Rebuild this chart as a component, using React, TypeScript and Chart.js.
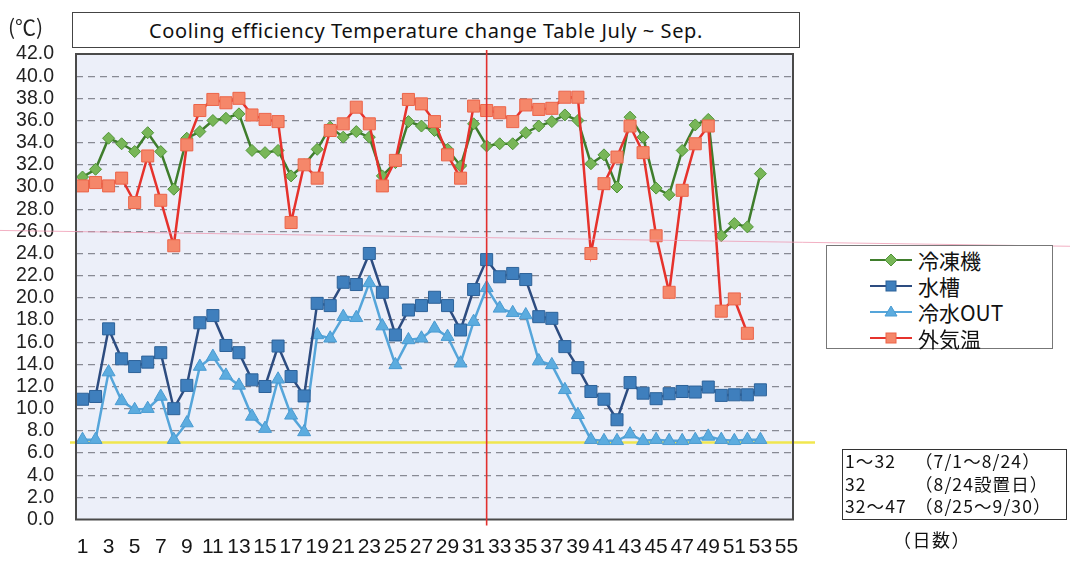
import React, { useEffect, useRef } from 'react';
import { Chart, registerables } from 'chart.js';

Chart.register(...registerables);

// ---- data ----
const X_LABELS = [
  '1', '2', '3', '4', '5', '6', '7', '8', '9', '10', '11', '12', '13', '14', '15', '16', '17', '18', '19', '20',
  '21', '22', '23', '24', '25', '26', '27', '28', '29', '30', '31', '32', '33', '34', '35', '36', '37', '38', '39', '40',
  '41', '42', '43', '44', '45', '46', '47', '48', '49', '50', '51', '52', '53', '54', '55',
];

// 冷凍機
const REFRIGERATOR = [
  30.9, 31.6, 34.4, 33.9, 33.2, 34.9, 33.2, 29.8, 34.4, 35.0,
  36.0, 36.2, 36.6, 33.3, 33.1, 33.3, 31.0, 32.0, 33.4, 35.4,
  34.5, 35.0, 34.5, 31.0, 32.2, 35.9, 35.5, 35.1, 33.4, 31.9,
  35.7, 33.7, 33.9, 33.9, 34.9, 35.5, 35.9, 36.5, 36.0, 32.1,
  32.9, 30.0, 36.3, 34.5, 29.9, 29.3, 33.3, 35.6, 36.1, 25.6,
  26.7, 26.4, 31.2,
];

// 水槽
const WATER_TANK = [
  10.85, 11.1, 17.2, 14.5, 13.8, 14.2, 15.05, 10.0, 12.1, 17.75,
  18.4, 15.7, 15.05, 12.6, 12.0, 15.65, 12.9, 11.15, 19.5, 19.3,
  21.4, 21.2, 24.0, 20.5, 16.65, 18.9, 19.3, 20.05, 19.3, 17.1,
  20.75, 23.45, 21.9, 22.2, 21.65, 18.3, 18.15, 15.6, 13.7, 11.55,
  10.85, 9.0, 12.35, 11.4, 10.9, 11.35, 11.55, 11.5, 11.95, 11.2,
  11.25, 11.25, 11.7,
];

// 冷水OUT
const CHILLED_OUT = [
  7.2, 7.2, 13.3, 10.7, 9.9, 10.0, 11.1, 7.2, 8.7, 13.8,
  14.7, 13.0, 12.1, 9.3, 8.2, 12.65, 9.4, 7.9, 16.65, 16.35,
  18.3, 18.2, 21.35, 17.45, 13.95, 16.2, 16.35, 17.25, 16.5, 14.1,
  17.85, 20.9, 19.05, 18.65, 18.45, 14.3, 13.95, 11.7, 9.45, 7.2,
  7.1, 7.1, 7.7, 7.1, 7.2, 7.1, 7.1, 7.2, 7.5, 7.2,
  7.1, 7.2, 7.2,
];

// 外気温
const OUTDOOR = [
  30.1, 30.4, 30.1, 30.8, 28.6, 32.8, 28.8, 24.7, 33.8, 36.9,
  37.9, 37.6, 38.0, 36.5, 36.1, 35.9, 26.8, 32.0, 30.8, 35.1,
  35.7, 37.2, 35.7, 30.1, 32.4, 37.9, 37.5, 35.9, 32.9, 30.8,
  37.3, 36.9, 36.7, 35.9, 37.4, 37.0, 37.1, 38.1, 38.1, 24.0,
  30.3, 32.7, 35.5, 33.1, 25.6, 20.5, 29.7, 33.9, 35.5, 18.8,
  19.9, 16.8,
];

const Y_MIN = 0;
const Y_MAX = 42;
const Y_STEP = 2;

const INSTALL_DAY = '32';
const YELLOW_LEVEL = 6.95;
const PINK_LINE_DAYS = ['1', '55'];
const PINK_LINE_VALUES = [25.97, 25.03];

const TITLE = 'Cooling efficiency Temperature change Table July ~ Sep.';
const UNIT_LABEL = '(℃)';
const X_UNIT_LABEL = '（日数）';

const LEGEND_NAMES = ['冷凍機', '水槽', '冷水OUT', '外気温'];

const NOTE_LEFT = ['1～32', '32', '32～47'];
const NOTE_RIGHT = ['（7/1～8/24）', '（8/24設置日）', '（8/25～9/30）'];

// ---- styles ----
const STYLE = [
  { line: '#3f7d2c', fill: '#78b658', border: '#4f9437', shape: 'diamond' },
  { line: '#2d4c80', fill: '#3f7fbd', border: '#2d6299', shape: 'square' },
  { line: '#55a5da', fill: '#5cacdf', border: '#4a9bd2', shape: 'triangle' },
  { line: '#e6322c', fill: '#f5876a', border: '#ec6449', shape: 'square' },
];

const decorPlugin = {
  id: 'decor',
  beforeDraw(chart: any) {
    const { ctx, chartArea: a } = chart;
    ctx.save();
    ctx.fillStyle = '#eceff9';
    ctx.fillRect(a.left, a.top, a.right - a.left, a.bottom - a.top);
    ctx.restore();
  },
  beforeDatasetsDraw(chart: any) {
    const { ctx, chartArea: a, scales } = chart;
    const y = scales.y.getPixelForValue(YELLOW_LEVEL);
    ctx.save();
    ctx.strokeStyle = 'rgba(240,228,60,0.9)';
    ctx.lineWidth = 2.5;
    ctx.beginPath();
    ctx.moveTo(a.left - 6, y);
    ctx.lineTo(a.right + 22, y);
    ctx.stroke();
    ctx.restore();
  },
  afterDatasetsDraw(chart: any) {
    const { ctx, chartArea: a, scales, width } = chart;
    ctx.save();
    ctx.strokeStyle = '#4a4a4a';
    ctx.lineWidth = 2;
    ctx.strokeRect(a.left, a.top, a.right - a.left, a.bottom - a.top);
    const xi = scales.x.getPixelForValue(X_LABELS.indexOf(INSTALL_DAY));
    ctx.strokeStyle = '#e2302e';
    ctx.lineWidth = 1.6;
    ctx.beginPath();
    ctx.moveTo(xi, a.top - 4);
    ctx.lineTo(xi, a.bottom + 6);
    ctx.stroke();
    const x1 = scales.x.getPixelForValue(X_LABELS.indexOf(PINK_LINE_DAYS[0]));
    const x2 = scales.x.getPixelForValue(X_LABELS.indexOf(PINK_LINE_DAYS[1]));
    const y1 = scales.y.getPixelForValue(PINK_LINE_VALUES[0]);
    const y2 = scales.y.getPixelForValue(PINK_LINE_VALUES[1]);
    const slope = (y2 - y1) / (x2 - x1);
    ctx.strokeStyle = 'rgba(238,150,175,0.75)';
    ctx.lineWidth = 1;
    ctx.beginPath();
    ctx.moveTo(0, y1 - slope * x1);
    ctx.lineTo(width, y1 + slope * (width - x1));
    ctx.stroke();
    ctx.restore();
  },
};

function LegendIcon({ idx }: { idx: number }) {
  const s = STYLE[idx];
  let marker: any = null;
  if (s.shape === 'diamond') {
    marker = <polygon points="21,4 27,10 21,16 15,10" fill={s.fill} stroke={s.border} strokeWidth="1" />;
  } else if (s.shape === 'square') {
    marker = <rect x="16" y="5" width="10" height="10" fill={s.fill} stroke={s.border} strokeWidth="1" />;
  } else {
    marker = <polygon points="21,4 27,14 15,14" fill={s.fill} stroke={s.border} strokeWidth="1" />;
  }
  return (
    <svg width="42" height="20" style={{ display: 'block' }}>
      <line x1="0" y1="10" x2="42" y2="10" stroke={s.line} strokeWidth="2" />
      {marker}
    </svg>
  );
}

export default function App() {
  const canvasRef = useRef<HTMLCanvasElement | null>(null);

  useEffect(() => {
    const canvas = canvasRef.current;
    if (!canvas) return;
    const series = [REFRIGERATOR, WATER_TANK, CHILLED_OUT, OUTDOOR];
    const pointStyles = ['rectRot', 'rect', 'triangle', 'rect'];
    const radii = [6, 8.5, 7.5, 8.5];
    const orders = [2, 1, 3, 0];
    const chart = new Chart(canvas, {
      type: 'line',
      data: {
        labels: X_LABELS,
        datasets: series.map((d, i) => ({
          label: LEGEND_NAMES[i],
          data: d,
          borderColor: STYLE[i].line,
          borderWidth: 2.5,
          backgroundColor: STYLE[i].fill,
          pointBackgroundColor: STYLE[i].fill,
          pointBorderColor: STYLE[i].border,
          pointBorderWidth: 1,
          pointStyle: pointStyles[i] as any,
          pointRadius: radii[i],
          pointHoverRadius: radii[i],
          tension: 0,
          fill: false,
          order: orders[i],
        })),
      },
      options: {
        responsive: false,
        animation: false,
        devicePixelRatio: 1,
        layout: { padding: { top: 54, right: 277, left: 0, bottom: 0 } },
        plugins: {
          legend: { display: false },
          tooltip: { enabled: false },
          title: { display: false },
        },
        scales: {
          x: {
            type: 'category',
            offset: true,
            grid: { display: false, drawTicks: false },
            border: { display: false },
            afterFit: (scale: any) => {
              scale.height = 52.5;
            },
            ticks: {
              autoSkip: false,
              maxRotation: 0,
              minRotation: 0,
              padding: 15,
              color: '#161616',
              font: { family: "'Liberation Sans Narrow', 'Liberation Sans', Arial, sans-serif", size: 21 },
              callback: (_v: any, idx: number) => (idx % 2 === 0 ? X_LABELS[idx] : ''),
            },
          },
          y: {
            min: Y_MIN,
            max: Y_MAX,
            afterFit: (scale: any) => {
              scale.width = 76;
            },
            border: { display: false, dash: [7, 5] },
            grid: {
              drawTicks: false,
              lineWidth: 1.2,
              color: (c: any) =>
                c.tick && (c.tick.value === Y_MIN || c.tick.value === Y_MAX)
                  ? 'rgba(0,0,0,0)'
                  : 'rgba(70,70,80,0.6)',
            },
            ticks: {
              stepSize: Y_STEP,
              autoSkip: false,
              padding: 22,
              color: '#222',
              font: { family: "'Liberation Sans', Arial, sans-serif", size: 19.5 },
              callback: (v: any) => Number(v).toFixed(1),
            },
          },
        },
      },
      plugins: [decorPlugin],
    } as any);
    return () => chart.destroy();
  }, []);

  const box: React.CSSProperties = { position: 'absolute', boxSizing: 'border-box' };

  return (
    <div style={{ position: 'absolute', left: 0, top: 0, width: 1070, height: 572, background: '#fff', overflow: 'hidden' }}>
      <canvas ref={canvasRef} width={1070} height={572} style={{ position: 'absolute', left: 0, top: 0, width: 1070, height: 572 }} />
      <div style={{ ...box, left: 8, top: 13, fontFamily: "'Noto Sans CJK JP', 'Noto Sans', sans-serif", fontSize: 21, color: '#222', lineHeight: '26px' }}>
        {UNIT_LABEL}
      </div>
      <div
        style={{
          ...box,
          left: 72,
          top: 12,
          width: 728,
          height: 36,
          border: '1.5px solid #444',
          background: '#fff',
          display: 'flex',
          alignItems: 'center',
          justifyContent: 'center',
          paddingRight: 20,
          fontFamily: "'Noto Sans', 'Open Sans', sans-serif",
          fontSize: 20,
          letterSpacing: 0.6,
          color: '#111',
        }}
      >
        {TITLE}
      </div>
      <div
        style={{
          ...box,
          left: 826,
          top: 245,
          width: 227,
          height: 104,
          border: '1.5px solid #777',
          background: '#fff',
          paddingTop: 1,
        }}
      >
        {LEGEND_NAMES.map((n, i) => (
          <div key={n} style={{ display: 'flex', alignItems: 'center', height: 26, paddingLeft: 43 }}>
            <LegendIcon idx={i} />
            <span style={{ marginLeft: 6, fontFamily: "'Noto Sans CJK JP', sans-serif", fontSize: 21, color: '#111', lineHeight: '26px' }}>{n}</span>
          </div>
        ))}
      </div>
      <div
        style={{
          ...box,
          left: 842,
          top: 449,
          width: 225,
          height: 71,
          border: '1.5px solid #333',
          background: '#fff',
          paddingLeft: 2,
          paddingTop: 0,
          fontFamily: "'Noto Sans CJK JP', sans-serif",
          fontSize: 17.5,
          letterSpacing: 1.1,
          color: '#111',
        }}
      >
        {NOTE_LEFT.map((l, i) => (
          <div key={i} style={{ display: 'flex', height: 22.5, lineHeight: '22.5px', whiteSpace: 'nowrap' }}>
            <span style={{ width: 70, display: 'inline-block' }}>{l}</span>
            <span>{NOTE_RIGHT[i]}</span>
          </div>
        ))}
      </div>
      <div style={{ ...box, left: 893, top: 527, fontFamily: "'Noto Sans CJK JP', sans-serif", fontSize: 18, letterSpacing: 1.5, color: '#111', lineHeight: '24px' }}>
        {X_UNIT_LABEL}
      </div>
    </div>
  );
}
